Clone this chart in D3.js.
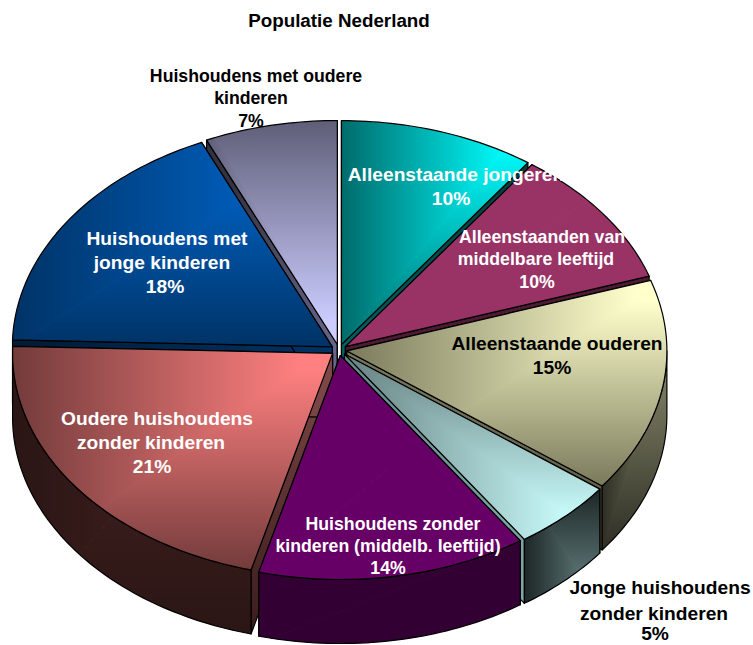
<!DOCTYPE html>
<html>
<head>
<meta charset="utf-8">
<script src="https://cdnjs.cloudflare.com/ajax/libs/d3/7.8.5/d3.min.js"></script>
<style>
  html, body { margin: 0; background: #fff; }
  svg { display: block; }
  text { font-family: "Liberation Sans", Arial, sans-serif; font-weight: bold; text-anchor: middle; }
</style>
</head>
<body>
<svg id="chart" width="753" height="645"></svg>
<script>
const categories = [
  "Alleenstaande jongeren",
  "Alleenstaanden van middelbare leeftijd",
  "Alleenstaande ouderen",
  "Jonge huishoudens zonder kinderen",
  "Huishoudens zonder kinderen (middelb. leeftijd)",
  "Oudere huishoudens zonder kinderen",
  "Huishoudens met jonge kinderen",
  "Huishoudens met oudere kinderen"
];
const values = [9.9, 10, 15.4, 5.2, 13.6, 21.4, 17.8, 6.7];
const labelLines = [
  ["Alleenstaande jongeren"],
  ["Alleenstaanden van", "middelbare leeftijd"],
  ["Alleenstaande ouderen"],
  ["Jonge huishoudens", "zonder kinderen"],
  ["Huishoudens zonder", "kinderen (middelb. leeftijd)"],
  ["Oudere huishoudens", "zonder kinderen"],
  ["Huishoudens met", "jonge kinderen"],
  ["Huishoudens met oudere", "kinderen"]
];

// look of each slice, same order as the categories
const topLight = ["#00ffff", "#993366", "#ffffcc", "#ccffff", "#660066", "#ff8080", "#0066cc", "#ccccff"];
const topDark = ["#006b6b", "#993366", "#7a7a5c", "#668080", "#660066", "#733b3b", "#003366", "#5e5e78"];
const wallLight = ["#007f7f", "#4d1a33", "#808066", "#668080", "#330033", "#452222", "#003366", "#6a6a88"];
const wallDark = ["#003333", "#4d1a33", "#2e2e24", "#1c2626", "#330033", "#2a1614", "#001a33", "#33333f"];
// cut faces run from the apex colour to the rim colour
const cutApex = ["#005f5f", "#4d1a33", "#77775e", "#668888", "#330033", "#804848", "#003366", "#66668a"];
const cutRim = ["#004040", "#4d1a33", "#5f5f4a", "#80a8a8", "#330033", "#3a1c1c", "#001a33", "#33333f"];
const corners = [["r", "t"], ["r", "t"], ["r", "t"], ["r", "b"], ["r", "t"], ["r", "t"], ["r", "t"], ["r", "b"]];
const labelFill = ["#fff", "#fff", "#000", "#000", "#fff", "#fff", "#fff", "#000"];
const labelSize = [19.2, 17.7, 19.2, 19.2, 17.7, 19.2, 19.2, 17.7];
const labelX = [[456, 451], [542, 536, 537], [557, 552], [660, 654, 655], [393, 388, 388], [157, 151, 152], [167, 162, 165], [256, 251, 251]];
const labelY = [[181, 205], [243, 265, 288], [350, 374], [594, 620, 640], [530, 552, 574], [425, 449, 473], [245, 269, 293], [82, 104, 127]];
// back slices first so the front ones paint over them
const drawOrder = [7, 0, 6, 1, 2, 5, 3, 4];

const cx = 339, cy = 350, rx = 320, ry = 224;
const depth = 64, explode = 8, tilt = ry / rx;

const svg = d3.select("#chart");
const defs = svg.append("defs");

const pie = d3.pie().sort(null).value(d => d);
const arcs = pie(values);

const rim = (a) => [rx * Math.sin(a), -ry * Math.cos(a)];

function rimPoints(a0, a1) {
  const n = Math.max(2, Math.ceil((a1 - a0) / 0.02));
  return d3.range(n + 1).map(i => rim(a0 + (a1 - a0) * i / n));
}

const line = d3.line();
let uid = 0;

function gradient(name, a, b, from, to, offset) {
  const lg = defs.append("linearGradient").attr("id", name)
    .attr("gradientUnits", "userSpaceOnUse")
    .attr("x1", a[0]).attr("y1", a[1]).attr("x2", b[0]).attr("y2", b[1]);
  lg.append("stop").attr("offset", offset).attr("stop-color", from);
  lg.append("stop").attr("offset", 1).attr("stop-color", to);
}

// excel style "from corner" gradient: bright in one corner, dark towards the opposite sides
function cornerFill(g, pathD, light, dark, corner) {
  const probe = g.append("path").attr("d", pathD);
  const box = probe.node().getBBox();
  probe.remove();

  const id = uid++;
  defs.append("clipPath").attr("id", `clip${id}`).append("path").attr("d", pathD);

  const x0 = corner[0] === "r" ? box.x + box.width : box.x;
  const x1 = corner[0] === "r" ? box.x : box.x + box.width;
  const y0 = corner[1] === "b" ? box.y + box.height : box.y;
  const y1 = corner[1] === "b" ? box.y : box.y + box.height;

  gradient(`gx${id}`, [x0, y0], [x1, y0], light, dark, 0.1);
  gradient(`gy${id}`, [x0, y0], [x0, y1], light, dark, 0.1);

  const inner = g.append("g").attr("clip-path", `url(#clip${id})`);
  inner.append("path")
    .attr("d", line([[x0, y0], [x1, y1], [x1, y0]]) + "Z")
    .attr("fill", `url(#gx${id})`).attr("stroke", `url(#gx${id})`);
  inner.append("path")
    .attr("d", line([[x0, y0], [x1, y1], [x0, y1]]) + "Z")
    .attr("fill", `url(#gy${id})`).attr("stroke", `url(#gy${id})`);

  g.append("path").attr("d", pathD)
    .attr("fill", "none").attr("stroke", "#000").attr("stroke-width", 1.2)
    .attr("stroke-linejoin", "round");
}

drawOrder.forEach(i => {
  const d = arcs[i];
  const mid = (d.startAngle + d.endAngle) / 2;
  const g = svg.append("g")
    .attr("transform", `translate(${cx + explode * Math.sin(mid)},${cy - explode * tilt * Math.cos(mid)})`);

  // cut faces
  [d.startAngle, d.endAngle].forEach(a => {
    const p = rim(a);
    const id = uid++;
    gradient(`cut${id}`, [0, 0], [p[0], p[1] + depth], cutApex[i], cutRim[i], 0);
    g.append("path")
      .attr("d", line([[0, 0], p, [p[0], p[1] + depth], [0, depth]]) + "Z")
      .attr("fill", `url(#cut${id})`)
      .attr("stroke", "#000").attr("stroke-width", 1.2)
      .attr("stroke-linejoin", "round");
  });

  // outer wall, only the part that faces the viewer
  const a0 = Math.max(d.startAngle, Math.PI / 2);
  const a1 = Math.min(d.endAngle, Math.PI * 1.5);
  if (a1 > a0) {
    const upper = rimPoints(a0, a1);
    const lower = upper.map(p => [p[0], p[1] + depth]).reverse();
    cornerFill(g, line(upper.concat(lower)) + "Z", wallLight[i], wallDark[i], corners[i]);
  }

  // top face
  const top = line([[0, 0]].concat(rimPoints(d.startAngle, d.endAngle))) + "Z";
  cornerFill(g, top, topLight[i], topDark[i], corners[i]);
});

svg.append("text")
  .attr("x", 339).attr("y", 27)
  .style("font-size", "18.8px")
  .text("Populatie Nederland");

categories.forEach((c, i) => {
  const lines = labelLines[i].concat(Math.round(values[i]) + "%");
  svg.append("g").selectAll("text")
    .data(lines)
    .enter()
    .append("text")
    .attr("x", (t, k) => labelX[i][k])
    .attr("y", (t, k) => labelY[i][k])
    .attr("fill", labelFill[i])
    .style("font-size", labelSize[i] + "px")
    .text(t => t);
});
</script>
</body>
</html>
